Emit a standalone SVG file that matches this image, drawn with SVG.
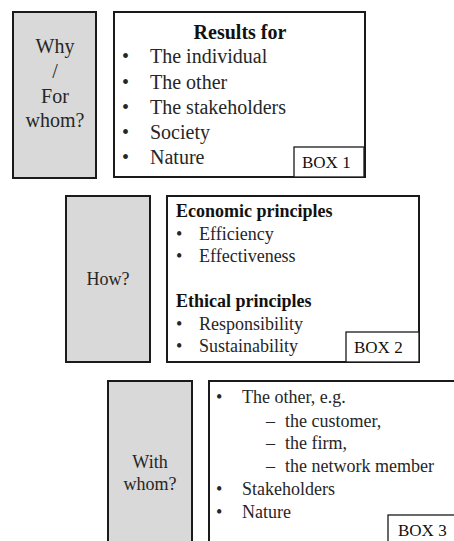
<svg xmlns="http://www.w3.org/2000/svg" width="454" height="541" viewBox="0 0 454 541">
<style>
.q{fill:#d9d9d9;stroke:#1a1a1a;stroke-width:2}
.b{fill:#fff;stroke:#1a1a1a;stroke-width:2}
.l{fill:#fff;stroke:#1a1a1a;stroke-width:1.3}
text{font-family:"Liberation Serif","Times New Roman",serif;fill:#262626}
.t1{font-size:20px}
.t2{font-size:18px}
.t3{font-size:18px}
.h{font-weight:bold;fill:#111}
.c{text-anchor:middle}
.lab{font-size:17px;fill:#111}
</style>
<rect width="454" height="541" fill="#fff"/>
<g id="q1">
<rect class="q" x="13" y="12" width="83" height="166"/>
<text class="t1 c" x="55" y="53">Why</text>
<text class="t1 c" x="55" y="78">/</text>
<text class="t1 c" x="55" y="103">For</text>
<text class="t1 c" x="55" y="127">whom?</text>
</g>
<g id="box1">
<rect class="b" x="114" y="12" width="251" height="165"/>
<text class="t1 h c" x="240" y="39">Results for</text>
<g class="t1">
<text x="122" y="63">•</text><text x="150" y="63">The individual</text>
<text x="122" y="89">•</text><text x="150" y="89">The other</text>
<text x="122" y="114">•</text><text x="150" y="114">The stakeholders</text>
<text x="122" y="139">•</text><text x="150" y="139">Society</text>
<text x="122" y="164">•</text><text x="150" y="164">Nature</text>
</g>
<rect class="l" x="294" y="147" width="70" height="30"/>
<text class="lab" x="302" y="168">BOX 1</text>
</g>
<g id="q2">
<rect class="q" x="66" y="196" width="84" height="166"/>
<text class="t2 c" x="108" y="285">How?</text>
</g>
<g id="box2">
<rect class="b" x="167" y="196" width="252" height="166"/>
<g class="t2">
<text class="h" x="176" y="217">Economic principles</text>
<text x="176" y="240">•</text><text x="199" y="240">Efficiency</text>
<text x="176" y="262">•</text><text x="199" y="262">Effectiveness</text>
<text class="h" x="176" y="307">Ethical principles</text>
<text x="176" y="330">•</text><text x="199" y="330">Responsibility</text>
<text x="176" y="352">•</text><text x="199" y="352">Sustainability</text>
</g>
<rect class="l" x="346" y="332" width="73" height="30"/>
<text class="lab" x="354" y="353">BOX 2</text>
</g>
<g id="q3">
<rect class="q" x="108" y="381" width="84" height="170"/>
<text class="t3 c" x="150" y="468">With</text>
<text class="t3 c" x="150" y="490">whom?</text>
</g>
<g id="box3">
<rect class="b" x="209" y="381" width="260" height="170"/>
<g class="t3">
<text x="216" y="403">•</text><text x="242" y="403">The other, e.g.</text>
<text x="266" y="427">–</text><text x="285" y="427">the customer,</text>
<text x="266" y="449">–</text><text x="285" y="449">the firm,</text>
<text x="266" y="472">–</text><text x="285" y="472">the network member</text>
<text x="216" y="495">•</text><text x="242" y="495">Stakeholders</text>
<text x="216" y="518">•</text><text x="242" y="518">Nature</text>
</g>
<rect class="l" x="388" y="515" width="80" height="40"/>
<text class="lab" x="398" y="536">BOX 3</text>
</g>
<g id="connectors"></g>
</svg>
